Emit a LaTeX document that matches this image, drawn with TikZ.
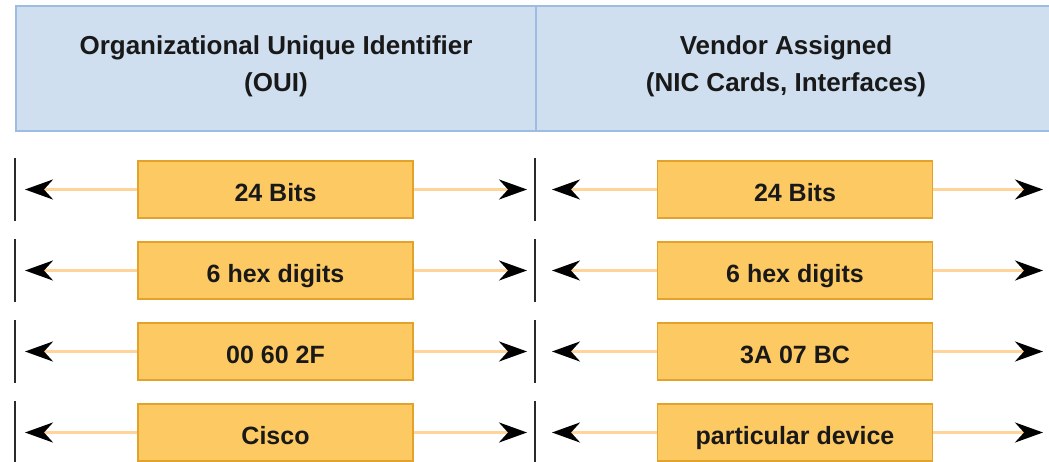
\documentclass[tikz,border=0pt]{standalone}
\usepackage{fontspec}
\setmainfont{Liberation Sans}
\usetikzlibrary{arrows.meta,positioning}
\definecolor{headFill}{HTML}{CFDFF0}
\definecolor{headLine}{HTML}{9DBCE1}
\definecolor{fieldFill}{HTML}{FDC963}
\definecolor{fieldLine}{HTML}{E3A32A}
\definecolor{wireLine}{HTML}{FFD49A}
\definecolor{barLine}{HTML}{2A2A2A}

\begin{document}
\begin{tikzpicture}[x=1pt,y=-1pt]
		\tikzset{head/.style = {draw=headLine, fill=headFill, line width=1.5pt, minimum height=125pt, inner sep=0pt}}
		\tikzset{headtext/.style = {align=center, text=black!90, font=\fontsize{26}{37}\selectfont\bfseries}}
		\tikzset{field/.style = {draw=fieldLine, fill=fieldFill, line width=1.5pt, minimum width=275pt, minimum height=57pt, text height=24pt, text depth=0pt, text=black!90, font=\fontsize{25}{30}\selectfont\bfseries}}
		\tikzset{bar/.style = {fill=barLine, inner sep=0pt, minimum width=2.4pt, minimum height=63pt}}
		\tikzset{wire/.style = {draw=wireLine, line width=3pt, -{Stealth[color=black, length=28pt, width=20pt, inset=9pt]}}}

		\useasboundingbox (0,0) rectangle (1049,462);

		% header
		\node[head, minimum width=520pt] (ouiHead) at (276,68.5) {};
		\node[head, minimum width=516pt] (nicHead) at (794,68.5) {};
		\node[headtext] (ouiText) at (276,66) {Organizational Unique Identifier\\(OUI)};
		\node[headtext] (nicText) at (786,66) {Vendor Assigned\\(NIC Cards, Interfaces)};

		% row 1
		\node[bar] (barL1) at (15,189.5) {};
		\node[bar] (barM1) at (535,189.5) {};
		\node[field] (ouiBits) at (275.5,189.5) {24 Bits};
		\node[field] (nicBits) at (795,189.5) {24 Bits};
		\coordinate (tipL1) at (25,189.5);
		\coordinate (tipM1) at (527,189.5);
		\coordinate (tipN1) at (552,189.5);
		\coordinate (tipR1) at (1043,189.5);
		\draw[wire] (ouiBits) -- (tipL1);
		\draw[wire] (ouiBits) -- (tipM1);
		\draw[wire] (nicBits) -- (tipN1);
		\draw[wire] (nicBits) -- (tipR1);

		% row 2
		\node[bar] (barL2) at (15,270.5) {};
		\node[bar] (barM2) at (535,270.5) {};
		\node[field] (ouiHex) at (275.5,270.5) {6 hex digits};
		\node[field] (nicHex) at (795,270.5) {6 hex digits};
		\coordinate (tipL2) at (25,270.5);
		\coordinate (tipM2) at (527,270.5);
		\coordinate (tipN2) at (552,270.5);
		\coordinate (tipR2) at (1043,270.5);
		\draw[wire] (ouiHex) -- (tipL2);
		\draw[wire] (ouiHex) -- (tipM2);
		\draw[wire] (nicHex) -- (tipN2);
		\draw[wire] (nicHex) -- (tipR2);

		% row 3
		\node[bar] (barL3) at (15,351.5) {};
		\node[bar] (barM3) at (535,351.5) {};
		\node[field] (ouiCode) at (275.5,351.5) {00 60 2F};
		\node[field] (nicCode) at (795,351.5) {3A 07 BC};
		\coordinate (tipL3) at (25,351.5);
		\coordinate (tipM3) at (527,351.5);
		\coordinate (tipN3) at (552,351.5);
		\coordinate (tipR3) at (1043,351.5);
		\draw[wire] (ouiCode) -- (tipL3);
		\draw[wire] (ouiCode) -- (tipM3);
		\draw[wire] (nicCode) -- (tipN3);
		\draw[wire] (nicCode) -- (tipR3);

		% row 4
		\node[bar] (barL4) at (15,432.5) {};
		\node[bar] (barM4) at (535,432.5) {};
		\node[field] (ouiName) at (275.5,432.5) {Cisco};
		\node[field] (nicName) at (795,432.5) {particular device};
		\coordinate (tipL4) at (25,432.5);
		\coordinate (tipM4) at (527,432.5);
		\coordinate (tipN4) at (552,432.5);
		\coordinate (tipR4) at (1043,432.5);
		\draw[wire] (ouiName) -- (tipL4);
		\draw[wire] (ouiName) -- (tipM4);
		\draw[wire] (nicName) -- (tipN4);
		\draw[wire] (nicName) -- (tipR4);
	\end{tikzpicture}
\end{document}
